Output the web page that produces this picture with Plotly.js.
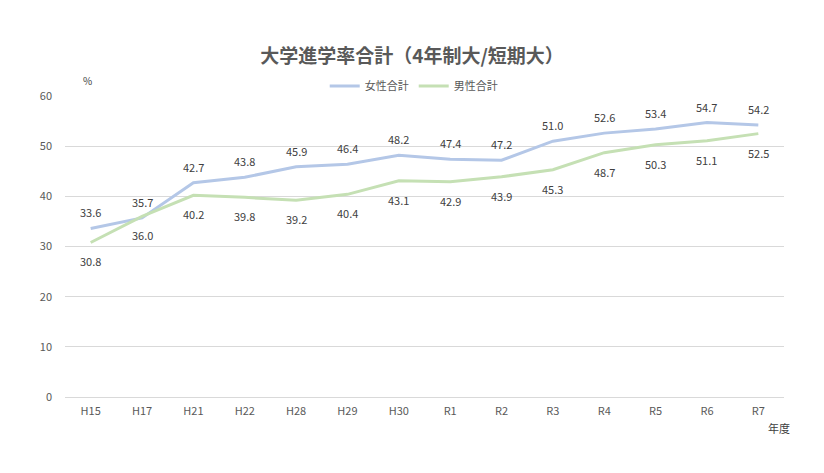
<!DOCTYPE html>
<html>
<head>
<meta charset="utf-8">
<script src="https://cdn.plot.ly/plotly-3.0.1.min.js"></script>
<style>
  body { margin: 0; background: #fff; }
  #chart { width: 824px; height: 473px; }
</style>
</head>
<body>
<div id="chart"></div>
<script>
// 年度
var years = ['H15', 'H17', 'H21', 'H22', 'H28', 'H29', 'H30', 'R1', 'R2', 'R3', 'R4', 'R5', 'R6', 'R7'];
// 女性合計 / 男性合計 (%)
var female = [33.6, 35.7, 42.7, 43.8, 45.9, 46.4, 48.2, 47.4, 47.2, 51.0, 52.6, 53.4, 54.7, 54.2];
var male = [30.8, 36.0, 40.2, 39.8, 39.2, 40.4, 43.1, 42.9, 43.9, 45.3, 48.7, 50.3, 51.1, 52.5];

var FONT = '"Noto Sans CJK JP", "Noto Sans", sans-serif';

var traces = [
  {
    x: years, y: female, name: '女性合計',
    type: 'scatter', mode: 'lines',
    line: { color: '#b4c7e7', width: 3 }
  },
  {
    x: years, y: male, name: '男性合計',
    type: 'scatter', mode: 'lines',
    line: { color: '#c5e0b4', width: 3 }
  }
];

// data labels: female above the line, male below
var labels = [];
years.forEach(function (yr, i) {
  labels.push({
    x: yr, y: female[i], xref: 'x', yref: 'y', text: female[i].toFixed(1),
    showarrow: false, yshift: 16, font: { size: 11, color: '#404040' }
  });
  labels.push({
    x: yr, y: male[i], xref: 'x', yref: 'y', text: male[i].toFixed(1),
    showarrow: false, yshift: -19, font: { size: 11, color: '#404040' }
  });
});

var layout = {
  width: 824, height: 473,
  margin: { l: 65, r: 40, t: 96, b: 76 },
  paper_bgcolor: '#fff', plot_bgcolor: '#fff',
  font: { family: FONT, color: '#595959', size: 11 },
  title: {
    text: '<b>大学進学率合計（4年制大/短期大）</b>',
    font: { size: 19, color: '#595959', family: FONT },
    x: 0.5, xanchor: 'center', y: 0.88, yanchor: 'middle'
  },
  showlegend: true,
  legend: {
    orientation: 'h', x: 0.485, xanchor: 'center', y: 1.033, yanchor: 'middle',
    font: { size: 11, color: '#595959' },
    itemwidth: 30
  },
  xaxis: {
    type: 'category', range: [-0.5, years.length - 0.5],
    showgrid: false, zeroline: false, showline: false,
    ticks: '', ticklabelstandoff: 6, tickfont: { size: 11, color: '#595959' }
  },
  yaxis: {
    range: [0, 60], dtick: 10,
    showgrid: true, gridcolor: '#d9d9d9', gridwidth: 1,
    zeroline: true, zerolinecolor: '#d9d9d9', zerolinewidth: 1,
    showline: false, ticks: '', ticklen: 0, ticklabelstandoff: 12,
    tickfont: { size: 11, color: '#595959' }
  },
  annotations: labels.concat([
    { text: '%', xref: 'paper', yref: 'paper', x: 0.031, y: 1.053,
      xanchor: 'center', yanchor: 'middle',
      showarrow: false, font: { size: 10, color: '#404040' } },
    { text: '年度', xref: 'paper', yref: 'paper', x: 0.993, y: -0.103,
      xanchor: 'center', yanchor: 'middle',
      showarrow: false, font: { size: 11, color: '#404040' } }
  ])
};

Plotly.newPlot('chart', traces, layout, { displayModeBar: false, staticPlot: true });
</script>
</body>
</html>
